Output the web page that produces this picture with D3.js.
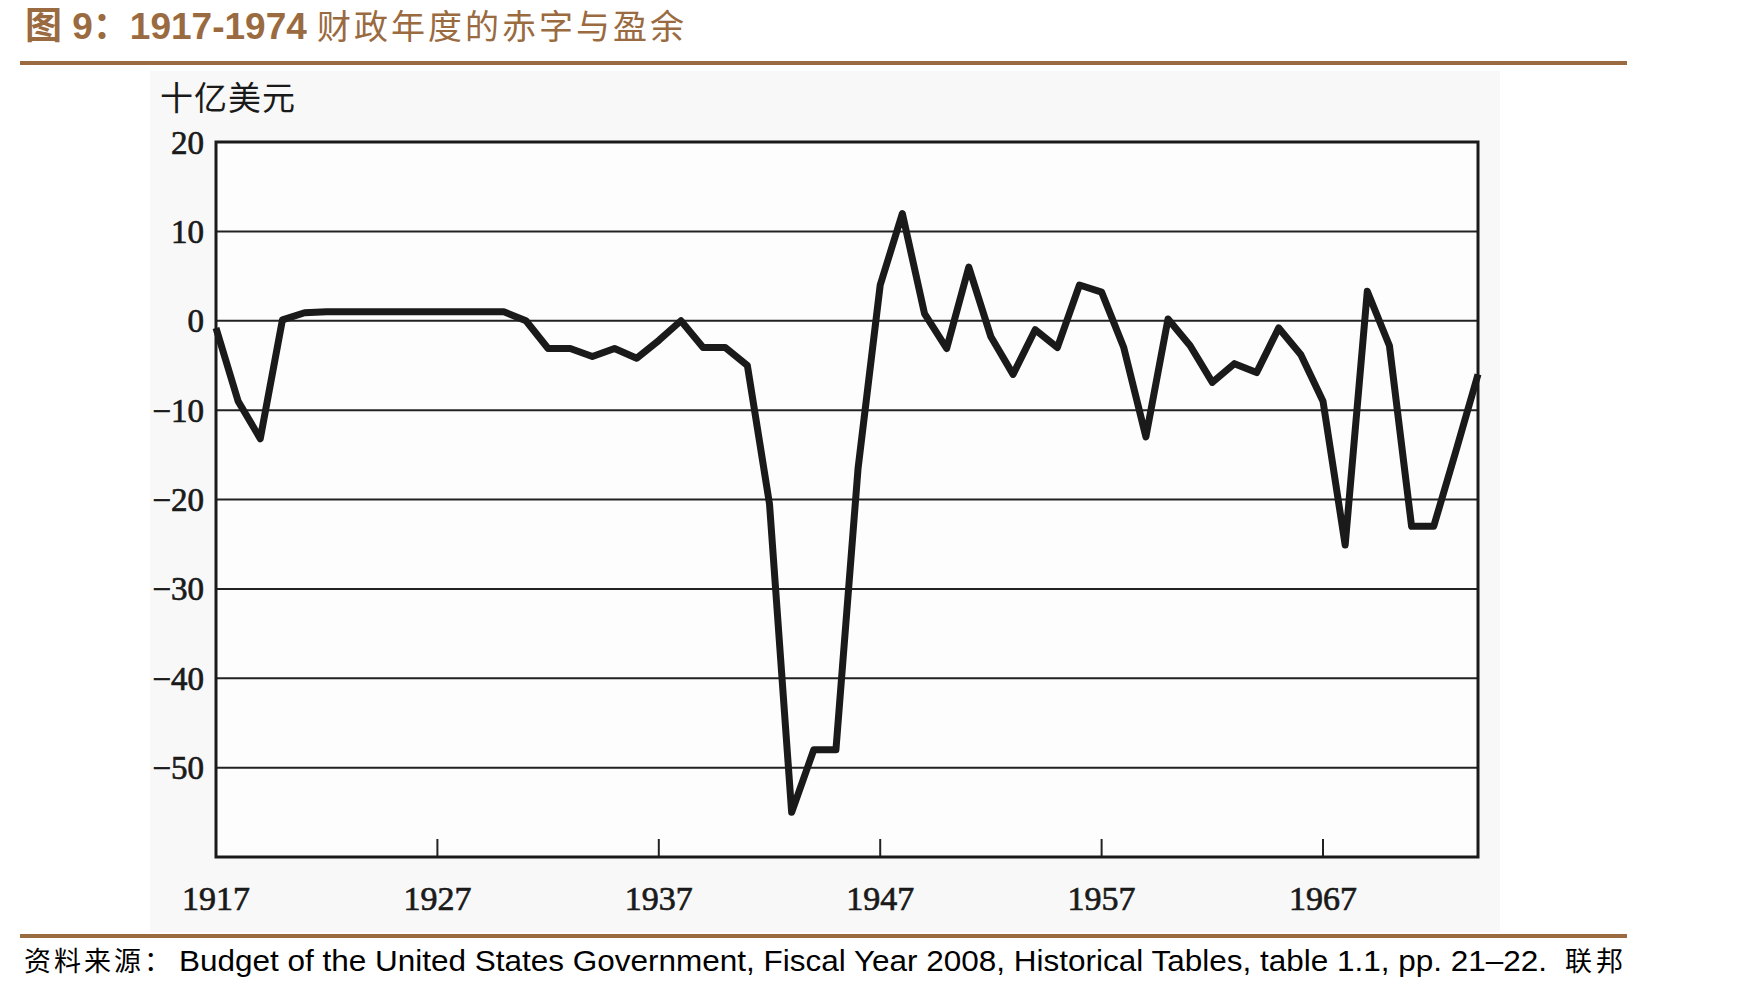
<!DOCTYPE html>
<html>
<head>
    <meta charset="utf-8">
    <script src="https://d3js.org/d3.v7.min.js"></script>
    <style>
        body { margin: 0; background: #ffffff; }
    </style>
</head>
<body>
    <div id="chart"></div>

    <script>
        // Fiscal years and surplus(+)/deficit(-), billions of dollars
        var years = [1917, 1918, 1919, 1920, 1921, 1922, 1923, 1924, 1925, 1926,
                     1927, 1928, 1929, 1930, 1931, 1932, 1933, 1934, 1935, 1936,
                     1937, 1938, 1939, 1940, 1941, 1942, 1943, 1944, 1945, 1946,
                     1947, 1948, 1949, 1950, 1951, 1952, 1953, 1954, 1955, 1956,
                     1957, 1958, 1959, 1960, 1961, 1962, 1963, 1964, 1965, 1966,
                     1967, 1968, 1969, 1970, 1971, 1972, 1973, 1974];
        var balance = [-0.8, -9, -13.2, 0.1, 0.9, 1, 1, 1, 1, 1,
                       1, 1, 1, 1, 0, -3.1, -3.1, -4, -3.1, -4.2,
                       -2.2, 0, -3, -3, -5, -20.5, -55, -48, -48, -16.5,
                       4, 12, 0.8, -3.1, 6, -1.8, -6, -1, -3, 4,
                       3.2, -3, -13, 0.2, -2.8, -6.9, -4.8, -5.8, -0.8, -3.8,
                       -9, -25.1, 3.3, -2.8, -23, -23, -14.6, -6];

        var yTicks = [20, 10, 0, -10, -20, -30, -40, -50];
        var yGrid = [10, 0, -10, -20, -30, -40, -50];
        var xTicks = [1917, 1927, 1937, 1947, 1957, 1967];
        var unitLabel = "十亿美元";
        var titleNum = "图 9：1917-1974 ";
        var titleText = "财政年度的赤字与盈余";
        var sourceCn = "资料来源：";
        var sourceEn = "Budget of the United States Government, Fiscal Year 2008, Historical Tables, table 1.1, pp. 21–22.";
        var sourceTail = "联邦";

        var W = 1755, H = 991;
        var brown = "#9a6a40";

        var svg = d3.select("#chart")
            .append("svg")
            .attr("width", W)
            .attr("height", H);

        // title and rules
        var title = svg.append("text")
            .attr("x", 25)
            .attr("y", 39)
            .attr("fill", brown);
        title.append("tspan")
            .style("font-weight", "bold")
            .style("font-family", "'Liberation Sans', 'Noto Sans CJK SC', sans-serif")
            .style("font-size", "37px")
            .text(titleNum);
        title.append("tspan")
            .style("font-family", "'Noto Sans CJK SC', sans-serif")
            .style("font-size", "34px")
            .style("letter-spacing", "3px")
            .text(titleText);

        svg.append("rect")
            .attr("x", 20).attr("y", 61)
            .attr("width", 1607).attr("height", 4)
            .attr("fill", brown);
        svg.append("rect")
            .attr("x", 20).attr("y", 934)
            .attr("width", 1607).attr("height", 4)
            .attr("fill", brown);

        // scanned page background
        svg.append("rect")
            .attr("x", 150).attr("y", 71)
            .attr("width", 1350).attr("height", 861)
            .attr("fill", "#f8f8f8");

        var x = d3.scaleLinear().domain([1917, 1974]).range([216, 1478]);
        var y = d3.scaleLinear().domain([-60, 20]).range([857, 142]);

        svg.append("rect")
            .attr("x", x(1917)).attr("y", y(20))
            .attr("width", x(1974) - x(1917))
            .attr("height", y(-60) - y(20))
            .attr("fill", "#fdfdfd");

        // gridlines
        svg.append("g")
            .selectAll("line")
            .data(yGrid)
            .enter().append("line")
            .attr("x1", x(1917)).attr("x2", x(1974))
            .attr("y1", function(d) { return y(d); })
            .attr("y2", function(d) { return y(d); })
            .attr("stroke", "#222")
            .attr("stroke-width", 2);

        // inward ticks on the bottom edge
        svg.append("g")
            .selectAll("line")
            .data(xTicks.slice(1))
            .enter().append("line")
            .attr("x1", function(d) { return x(d); })
            .attr("x2", function(d) { return x(d); })
            .attr("y1", y(-60))
            .attr("y2", y(-60) - 18)
            .attr("stroke", "#222")
            .attr("stroke-width", 2);

        // frame
        svg.append("rect")
            .attr("x", x(1917)).attr("y", y(20))
            .attr("width", x(1974) - x(1917))
            .attr("height", y(-60) - y(20))
            .attr("fill", "none")
            .attr("stroke", "#1a1a1a")
            .attr("stroke-width", 3);

        // y labels
        svg.append("g")
            .selectAll("text")
            .data(yTicks)
            .enter().append("text")
            .attr("x", x(1917) - 12)
            .attr("y", function(d) { return y(d); })
            .attr("dy", "0.35em")
            .attr("text-anchor", "end")
            .attr("fill", "#1a1a1a")
            .attr("stroke", "#1a1a1a")
            .attr("stroke-width", 0.7)
            .style("font-family", "'Liberation Serif', serif")
            .style("font-size", "33px")
            .text(function(d) { return d < 0 ? "−" + Math.abs(d) : d; });

        // x labels
        svg.append("g")
            .selectAll("text")
            .data(xTicks)
            .enter().append("text")
            .attr("x", function(d) { return x(d); })
            .attr("y", 910)
            .attr("text-anchor", "middle")
            .attr("fill", "#1a1a1a")
            .attr("stroke", "#1a1a1a")
            .attr("stroke-width", 0.7)
            .style("font-family", "'Liberation Serif', serif")
            .style("font-size", "34px")
            .text(function(d) { return d; });

        svg.append("text")
            .attr("x", 160)
            .attr("y", 110)
            .attr("fill", "#1a1a1a")
            .style("font-family", "'Noto Sans CJK SC', sans-serif")
            .style("font-size", "33px")
            .style("letter-spacing", "1px")
            .text(unitLabel);

        // the series
        var line = d3.line()
            .x(function(d, i) { return x(years[i]); })
            .y(function(d) { return y(d); });

        svg.append("path")
            .datum(balance)
            .attr("d", line)
            .attr("fill", "none")
            .attr("stroke", "#1a1a1a")
            .attr("stroke-width", 7)
            .attr("stroke-linejoin", "round");

        // source note
        var srcY = 971;
        svg.append("text")
            .attr("x", 24).attr("y", srcY)
            .style("font-family", "'Noto Sans CJK SC', sans-serif")
            .style("font-size", "27px")
            .style("letter-spacing", "3px")
            .text(sourceCn);
        svg.append("text")
            .attr("x", 179).attr("y", srcY)
            .attr("textLength", 1368)
            .attr("lengthAdjust", "spacingAndGlyphs")
            .style("font-family", "'Liberation Sans', sans-serif")
            .style("font-size", "29px")
            .text(sourceEn);
        svg.append("text")
            .attr("x", 1565).attr("y", srcY)
            .style("font-family", "'Noto Sans CJK SC', sans-serif")
            .style("font-size", "27px")
            .style("letter-spacing", "4px")
            .text(sourceTail);
    </script>
</body>
</html>
